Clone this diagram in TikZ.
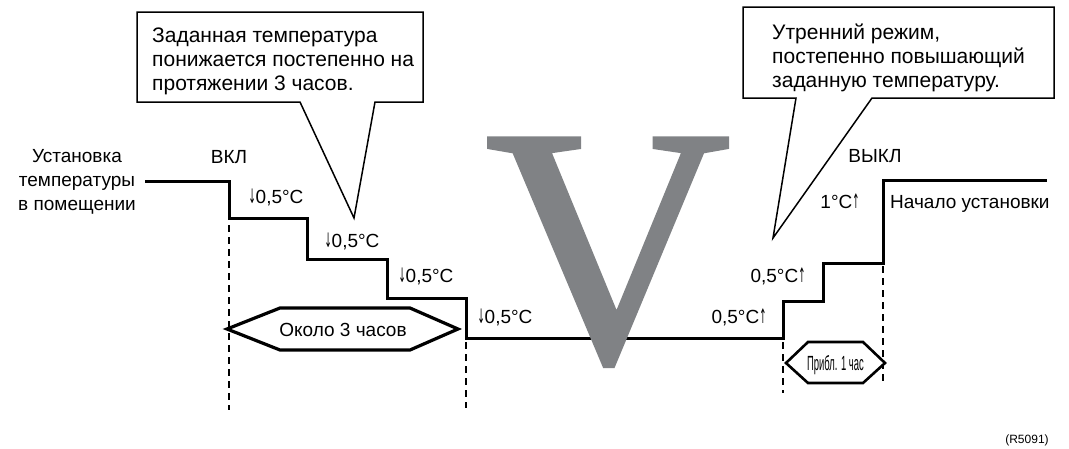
\documentclass[tikz,border=0pt]{standalone}
\usepackage{fontspec}
\setmainfont{Liberation Sans}
\newfontfamily\vserif[FakeBold=1.2]{Liberation Serif}
\newfontfamily\arrfont{DejaVu Sans}
\definecolor{vgray}{RGB}{128,130,133}
\newcommand\darr{\scalebox{0.45}[1.05]{\arrfont ↓}}
\newcommand\uarr{\scalebox{0.45}[1.05]{\arrfont ↑}}
\begin{document}
\begin{tikzpicture}[x=1pt,y=-1pt,
  lbl/.style={inner sep=0pt,font=\fontsize{19}{24}\selectfont},
  ctext/.style={inner sep=0pt,align=left,font=\fontsize{21}{24}\selectfont},
  stair/.style={line width=3pt,line join=miter},
  guide/.style={line width=1.6pt,dash pattern=on 7pt off 5pt},
  callout/.style={line width=1.5pt,fill=white,line join=miter},
  hexarrow/.style={line width=3.2pt,fill=white,line join=miter}]
\useasboundingbox (0,0) rectangle (1069,448);
% staircase
\draw[stair] (145,181) -- (229,181) -- (229,218) -- (307,218) -- (307,259) -- (387,259) -- (387,298) -- (466,298) -- (466,338) -- (783,338) -- (783,301) -- (823,301) -- (823,263) -- (883,263) -- (883,180) -- (1047,180);
% dashed guides
\draw[guide] (229,225) -- (229,410);
\draw[guide] (466,342) -- (466,408);
\draw[guide] (783,342) -- (783,393);
\draw[guide] (883,266) -- (883,383);
% big V
\node[inner sep=0pt,anchor=base,text=vgray,font=\vserif\fontsize{340}{340}\selectfont] (bigv) at (608,361) {V};
% callouts
\draw[callout] (137,12) -- (423,12) -- (423,102) -- (375,102) -- (354,218) -- (300,102) -- (137,102) -- cycle;
\node[ctext,anchor=base west] (c1a) at (152,42) {Заданная температура};
\node[ctext,anchor=base west] (c1b) at (152,66) {понижается постепенно на};
\node[ctext,anchor=base west] (c1c) at (152,90) {протяжении 3 часов.};
\draw[callout] (743,7) -- (1054,7) -- (1054,98) -- (872,98) -- (773,238) -- (796,98) -- (743,98) -- cycle;
\node[ctext,anchor=base west] (c2a) at (772,39) {Утренний режим,};
\node[ctext,anchor=base west] (c2b) at (772,63) {постепенно повышающий};
\node[ctext,anchor=base west] (c2c) at (772,87) {заданную температуру.};
% left labels
\node[lbl,anchor=base] (u1) at (77,162) {Установка};
\node[lbl,anchor=base] (u2) at (77,186) {температуры};
\node[lbl,anchor=base] (u3) at (77,210) {в помещении};
\node[lbl,anchor=base] (on) at (229,163) {ВКЛ};
\node[lbl,anchor=base] (off) at (875,162) {ВЫКЛ};
\node[lbl,anchor=base] (d1) at (276,203) {\darr0,5°C};
\node[lbl,anchor=base] (d2) at (352,247) {\darr0,5°C};
\node[lbl,anchor=base] (d3) at (426,282) {\darr0,5°C};
\node[lbl,anchor=base] (d4) at (505,323) {\darr0,5°C};
\node[lbl,anchor=base] (r1) at (739,323) {0,5°C\uarr};
\node[lbl,anchor=base] (r2) at (778,282) {0,5°C\uarr};
\node[lbl,anchor=base] (r3) at (840,208) {1°C\uarr};
\node[lbl,anchor=base west] (start) at (890,208) {Начало установки};
% duration arrows
\draw[hexarrow] (227,329) -- (280,308) -- (410,308) -- (458,329) -- (410,350) -- (280,350) -- cycle;
\node[lbl,anchor=base] (h1) at (343,336) {Около 3 часов};
\draw[hexarrow,line width=2.6pt] (786,363) -- (808,342) -- (863,342) -- (885,363) -- (863,383) -- (808,383) -- cycle;
\node[inner sep=0pt,anchor=base] (h2) at (835.5,370) {\scalebox{0.46}[1]{\fontsize{20.5}{22}\selectfont Прибл. 1 час}};
\node[inner sep=0pt,anchor=base,font=\fontsize{12}{14}\selectfont] (ref) at (1027,443) {(R5091)};
\end{tikzpicture}
\end{document}
